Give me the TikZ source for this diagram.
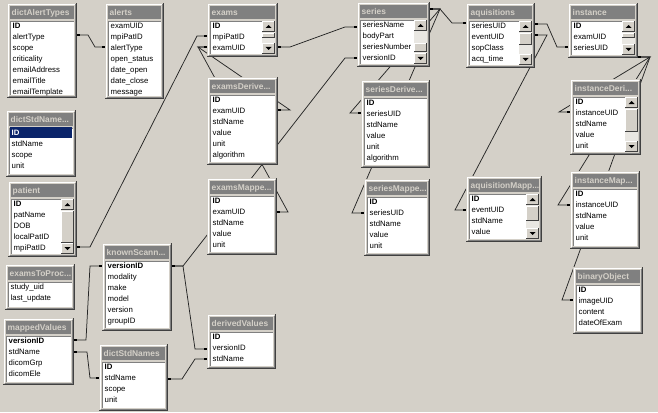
\documentclass[tikz,border=0pt]{standalone}
\usepackage{fontspec}
\setmainfont{Liberation Sans}
\definecolor{bg}{HTML}{D4D0C8}
\definecolor{tbar}{HTML}{808080}
\definecolor{dk}{HTML}{404040}
\definecolor{sel}{HTML}{0A246A}
\definecolor{trk}{HTML}{E9E7E2}
\newcommand\btn[4]{%
  \fill[bg] ({#1},{#2}) rectangle ({#3},{#4});
  \draw[white,line width=1pt] ({#1+0.5},{#4-1}) -- ({#1+0.5},{#2+0.5}) -- ({#3-1},{#2+0.5});
  \draw[dk,line width=1pt] ({#1},{#4-0.5}) -- ({#3-0.5},{#4-0.5}) -- ({#3-0.5},{#2});
}
\newcommand\scrl[5]{%
  \fill[trk] ({#1-16},{#2}) rectangle ({#1-3},{#3});
  \btn{#1-16}{#2}{#1-3}{#2+11}
  \btn{#1-16}{#3-11}{#1-3}{#3}
  \btn{#1-16}{#4}{#1-3}{#5}
  \fill ({#1-12.5},{#2+7}) -- ({#1-6.5},{#2+7}) -- ({#1-9.5},{#2+4}) -- cycle;
  \fill ({#1-12.5},{#3-7}) -- ({#1-6.5},{#3-7}) -- ({#1-9.5},{#3-4}) -- cycle;
}
\newcommand\tbl[8]{%
  \fill[bg] ({#2},{#3}) rectangle ({#4},{#5});
  \draw[white,line width=1pt] ({#2+1.5},{#5-2}) -- ({#2+1.5},{#3+1.5}) -- ({#4-2},{#3+1.5});
  \draw[tbar,line width=1pt] ({#2+1.5},{#5-1.5}) -- ({#4-1.5},{#5-1.5}) -- ({#4-1.5},{#3+1.5});
  \draw[dk,line width=1pt] ({#2},{#5-0.5}) -- ({#4-0.5},{#5-0.5}) -- ({#4-0.5},{#3});
  \fill[tbar] ({#2+3},{#3+3}) rectangle ({#4-3},{#3+16});
  \begin{scope}
    \clip ({#2+3},{#3+3}) rectangle ({#4-3},{#3+16});
    \node[ttl,name=#1-t] at ({#2+4.5},{#3+12.6}) {#6};
  \end{scope}
  \fill[white] ({#2+3},{#3+18}) rectangle ({#4-3},{#5-3});
  \draw[tbar,line width=1pt] ({#2+3.5},{#5-3}) -- ({#2+3.5},{#3+18.5}) -- ({#4-3},{#3+18.5});
  #8
  \foreach \r [count=\i] in {#7} \node[row,name=#1-\i] at ({#2+5.5},{#3+14.2+11.1*\i}) {\r};
}
\newcommand\relx[6]{%
  \draw[rel] (#1) -- #2 -- #3 -- (#4);
  \draw[tick] (#1) -- ++({#5*3},0);
  \draw[tick] (#4) -- ++({#6*3},0);
}
\begin{document}
\begin{tikzpicture}[x=1pt,y=-1pt,
  row/.style={anchor=base west,inner sep=0pt,font=\fontsize{7.8}{9}\selectfont,text=black},
  ttl/.style={anchor=base west,inner sep=0pt,font=\fontsize{8.4}{10}\selectfont\bfseries,text=bg},
  rel/.style={draw=black!85,line width=0.75pt},
  tick/.style={draw=black,line width=1.8pt}]
\useasboundingbox (0,0) rectangle (658,412);
\fill[bg] (0,0) rectangle (658,412);

% connector end points
\coordinate (dA) at (77,35);    \coordinate (alL) at (105,47);
\coordinate (paR) at (77,247);  \coordinate (exL1) at (207,36);
\coordinate (exL2) at (207,47); \coordinate (edR) at (278,110);
\coordinate (emR) at (277,212); \coordinate (exR) at (278,47);
\coordinate (seL1) at (357,27); \coordinate (seL2) at (357,58);
\coordinate (ksR) at (172,266); \coordinate (ksL) at (102,266);
\coordinate (dvL1) at (207,349);\coordinate (dvL2) at (207,359);
\coordinate (mvR1) at (74,340); \coordinate (mvR2) at (74,352);
\coordinate (dsL) at (99,378);  \coordinate (dsR) at (168,379);
\coordinate (seR) at (430,9);   \coordinate (aqL) at (466,23);
\coordinate (sdL) at (361,113); \coordinate (smL) at (364,213);
\coordinate (aqR1) at (535,24); \coordinate (aqR2) at (535,35);
\coordinate (inL) at (568,47);  \coordinate (amL) at (466,210);
\coordinate (inR) at (638,57);  \coordinate (idL) at (570,112);
\coordinate (imL) at (570,205); \coordinate (boL) at (573,300);

% connectors (drawn beneath the tables)
\relx{dA}{(88,35)}{(95,47)}{alL}{1}{-1}
\relx{paR}{(90,247)}{(197,36)}{exL1}{1}{-1}
\relx{exL2}{(198,47)}{(290,110)}{edR}{-1}{1}
\relx{exL2}{(198,47)}{(288,212)}{emR}{-1}{1}
\relx{exR}{(290,47)}{(345,27)}{seL1}{1}{-1}
\relx{seL2}{(345,58)}{(183,266)}{ksR}{-1}{1}
\relx{ksR}{(183,266)}{(195,349)}{dvL1}{1}{-1}
\relx{mvR1}{(86,340)}{(90,266)}{ksL}{1}{-1}
\relx{mvR2}{(87,352)}{(90,378)}{dsL}{1}{-1}
\relx{dsR}{(182,379)}{(195,359)}{dvL2}{1}{-1}
\relx{seR}{(440,9)}{(452,23)}{aqL}{1}{-1}
\relx{seR}{(440,9)}{(350,113)}{sdL}{1}{-1}
\relx{seR}{(440,9)}{(352,213)}{smL}{1}{-1}
\relx{aqR1}{(547,24)}{(557,47)}{inL}{1}{-1}
\relx{aqR2}{(547,35)}{(455,210)}{amL}{1}{-1}
\relx{inR}{(650,57)}{(559,112)}{idL}{1}{-1}
\relx{inR}{(650,57)}{(558,205)}{imL}{1}{-1}
\relx{inR}{(650,57)}{(562,300)}{boL}{1}{-1}

% tables
\tbl{dat}{7}{3}{77}{98}{dictAlertTypes}{\textbf{ID},alertType,scope,criticality,emailAddress,emailTitle,emailTemplate}{}
\tbl{alr}{105}{3}{164}{99}{alerts}{examUID,mpiPatID,alertType,open\_status,date\_open,date\_close,message}{}
\tbl{exa}{207}{3}{278}{57}{exams}{\textbf{ID},mpiPatID,examUID}{}
\scrl{278}{21}{54}{33}{38}
\tbl{ser}{357}{2}{430}{67}{series}{seriesName,bodyPart,seriesNumber,versionID}{}
\scrl{430}{20}{64}{43}{52}
\tbl{aqu}{466}{3}{535}{68}{aquisitions}{seriesUID,eventUID,sopClass,acq\_time}{}
\scrl{535}{21}{65}{33}{45}
\tbl{ins}{568}{3}{638}{58}{instance}{\textbf{ID},examUID,seriesUID}{}
\scrl{638}{21}{55}{33}{38}
\tbl{dsn}{6}{110}{76}{177}{dictStdName...}{\textcolor{white}{\textbf{ID}},stdName,scope,unit}{\fill[sel] (10,127) rectangle (72,138);}
\tbl{pat}{8}{181}{77}{257}{patient}{\textbf{ID},patName,DOB,localPatID,mpiPatID}{}
\scrl{77}{199}{254}{211}{243}
\tbl{etp}{5}{264}{75}{310}{examsToProc...}{study\_uid,last\_update}{}
\tbl{mpv}{3}{318}{74}{385}{mappedValues}{\textbf{versionID},stdName,dicomGrp,dicomEle}{}
\tbl{ksc}{102}{243}{172}{331}{knownScann...}{\textbf{versionID},modality,make,model,version,groupID}{}
\tbl{dsns}{99}{344}{168}{411}{dictStdNames}{\textbf{ID},stdName,scope,unit}{}
\tbl{dvv}{207}{314}{276}{369}{derivedValues}{\textbf{ID},versionID,stdName}{}
\tbl{exd}{207}{77}{278}{165}{examsDerive...}{\textbf{ID},examUID,stdName,value,unit,algorithm}{}
\tbl{exm}{207}{178}{277}{255}{examsMappe...}{\textbf{ID},examUID,stdName,value,unit}{}
\tbl{sed}{361}{80}{430}{168}{seriesDerive...}{\textbf{ID},seriesUID,stdName,value,unit,algorithm}{}
\tbl{sem}{364}{179}{430}{256}{seriesMappe...}{\textbf{ID},seriesUID,stdName,value,unit}{}
\tbl{ind}{570}{79}{641}{155}{instanceDeri...}{\textbf{ID},instanceUID,stdName,value,unit}{}
\scrl{641}{97}{152}{109}{132}
\tbl{aqm}{466}{176}{542}{242}{aquisitionMapp...}{\textbf{ID},eventUID,stdName,value}{}
\scrl{542}{194}{239}{206}{221}
\tbl{inm}{570}{171}{640}{249}{instanceMap...}{\textbf{ID},instanceUID,stdName,value,unit}{}
\tbl{bin}{573}{267}{643}{334}{binaryObject}{\textbf{ID},imageUID,content,dateOfExam}{}
\end{tikzpicture}
\end{document}
